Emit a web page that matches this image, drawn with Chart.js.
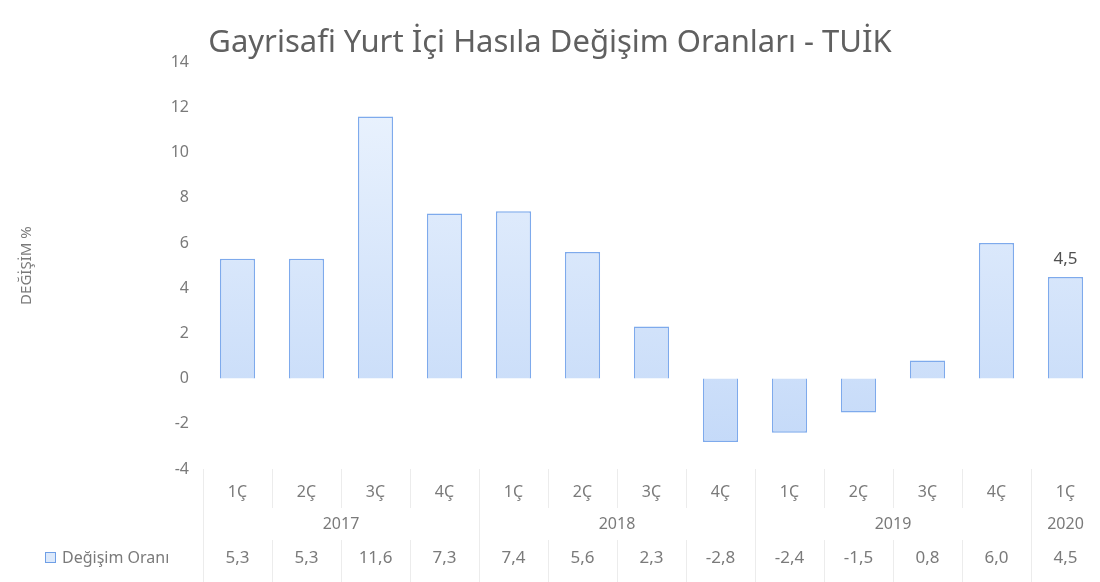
<!DOCTYPE html>
<html>
<head>
<meta charset="utf-8">
<script src="https://cdn.jsdelivr.net/npm/chart.js@4.4.0/dist/chart.umd.min.js"></script>
<style>
  html, body { margin: 0; padding: 0; background: #fff; }
  #wrap { width: 1100px; height: 582px; }
</style>
</head>
<body>
<div id="wrap"><canvas id="graphCanvas"></canvas></div>
<script>
const quarters = ['1Ç', '2Ç', '3Ç', '4Ç', '1Ç', '2Ç', '3Ç', '4Ç', '1Ç', '2Ç', '3Ç', '4Ç', '1Ç'];
const years = ['2017', '2018', '2019', '2020'];
const yearSpans = [4, 4, 4, 1];
const values = [5.3, 5.3, 11.6, 7.3, 7.4, 5.6, 2.3, -2.8, -2.4, -1.5, 0.8, 6.0, 4.5];
const seriesName = 'Değişim Oranı';
const labelledIndex = [12];

const fmt = v => v.toFixed(1).replace('.', ',');
const gray = '#7a7a7a';
const font = '"Noto Sans", "Open Sans", sans-serif';

const tablePlugin = {
    id: 'dataTable',
    afterDraw(chart) {
        const c = chart.ctx;
        const x = chart.scales.x;
        const y = chart.scales.y;
        const step = x.getPixelForValue(1) - x.getPixelForValue(0);
        const top = chart.chartArea.bottom;
        c.save();

        // faint table lines
        c.strokeStyle = '#ececec';
        c.lineWidth = 1;
        let start = 0;
        const groupEdges = [0];
        yearSpans.forEach(n => { start += n; groupEdges.push(start); });
        for (let i = 0; i <= quarters.length; i++) {
            const px = Math.round(x.getPixelForValue(i) - step / 2) + 0.5;
            c.beginPath();
            if (groupEdges.includes(i)) {
                c.moveTo(px, top);
                c.lineTo(px, 582);
            } else {
                c.moveTo(px, top);
                c.lineTo(px, 508);
                c.moveTo(px, 540);
                c.lineTo(px, 582);
            }
            c.stroke();
        }

        c.fillStyle = gray;
        c.textAlign = 'center';
        c.textBaseline = 'middle';
        c.font = '16px ' + font;
        quarters.forEach((q, i) => c.fillText(q, x.getPixelForValue(i), 492));

        let idx = 0;
        years.forEach((yr, g) => {
            const a = x.getPixelForValue(idx);
            const b = x.getPixelForValue(idx + yearSpans[g] - 1);
            c.fillText(yr, (a + b) / 2, 524);
            idx += yearSpans[g];
        });

        c.font = '17px ' + font;
        values.forEach((v, i) => c.fillText(fmt(v), x.getPixelForValue(i), 558));

        // legend key + series name
        c.fillStyle = '#dce9fb';
        c.fillRect(45, 552, 11, 11);
        c.strokeStyle = '#6f9fe6';
        c.strokeRect(45.5, 552.5, 10, 10);
        c.fillStyle = gray;
        c.textAlign = 'left';
        c.font = '16px ' + font;
        c.fillText(seriesName, 62, 558);

        // data label
        c.fillStyle = '#505050';
        c.textAlign = 'center';
        c.font = '17px ' + font;
        labelledIndex.forEach(i => {
            const v = values[i];
            c.fillText(fmt(v), x.getPixelForValue(i), y.getPixelForValue(v) - 18);
        });
        c.restore();
    }
};

new Chart(document.getElementById('graphCanvas'), {
    type: 'bar',
    data: {
        labels: quarters,
        datasets: [{
            label: seriesName,
            data: values,
            borderWidth: 1.5,
            borderColor: '#7eaaec',
            categoryPercentage: 1,
            barPercentage: 0.51,
            backgroundColor: function(context) {
                const area = context.chart.chartArea;
                if (!area) return '#dce9fb';
                const gradient = context.chart.ctx.createLinearGradient(0, area.top, 0, area.bottom);
                gradient.addColorStop(0, '#eef5fe');
                gradient.addColorStop(1, '#c2d8f8');
                return gradient;
            }
        }]
    },
    options: {
        responsive: true,
        maintainAspectRatio: false,
        animation: false,
        layout: {
            padding: { left: 0, right: 0, top: 0, bottom: 113 }
        },
        plugins: {
            legend: { display: false },
            tooltip: { enabled: false },
            title: {
                display: true,
                text: 'Gayrisafi Yurt İçi Hasıla Değişim Oranları - TUİK',
                color: '#606060',
                font: { family: font, size: 31, weight: 'normal' },
                padding: { top: 25, bottom: 0 }
            }
        },
        scales: {
            x: {
                display: false,
                grid: { display: false }
            },
            y: {
                min: -4,
                max: 14,
                ticks: {
                    stepSize: 2,
                    color: gray,
                    padding: 14,
                    font: { family: font, size: 16 }
                },
                grid: { display: false, drawTicks: false },
                border: { display: false },
                title: {
                    display: true,
                    text: 'DEĞİŞİM %',
                    color: gray,
                    font: { family: font, size: 15 },
                    padding: { top: 18, bottom: 0 }
                },
                afterFit: function(scale) {
                    scale.width = 203;
                }
            }
        }
    },
    plugins: [tablePlugin]
});
</script>
</body>
</html>
